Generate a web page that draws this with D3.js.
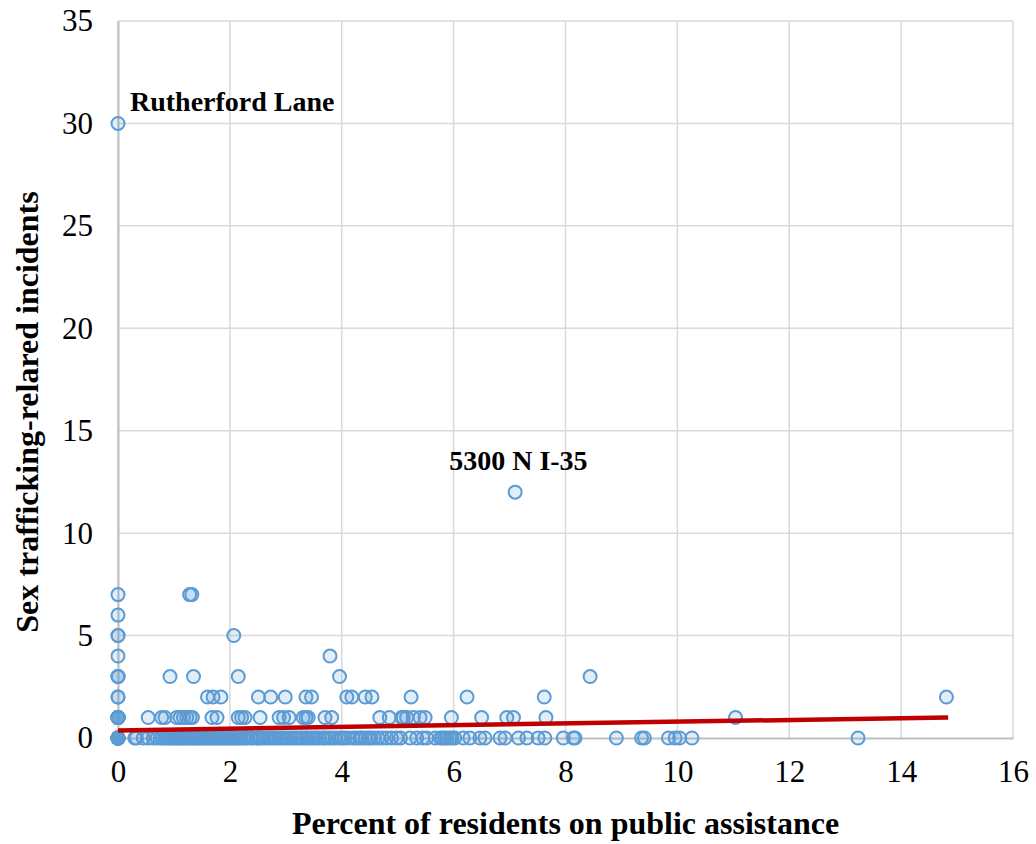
<!DOCTYPE html>
<html>
<head>
<meta charset="utf-8">
<script src="https://cdn.jsdelivr.net/npm/d3@7"></script>
<style>
  body { margin: 0; background: #fff; }
  svg { display: block; }
</style>
</head>
<body>
<script>
// incident counts, and for each count the % on public assistance of every location
const incidentLevels = [0, 1, 2, 3, 4, 5, 6, 7, 12, 30];
const pctAtLevel = [
  [0, 0, 0, 0, 0, 0, 0, 0, 0, 0, 0, 0, 0, 0, 0,
   0.30, 0.33, 0.45, 0.54, 0.63, 0.70, 0.76, 0.80, 0.85, 0.88, 0.92, 0.95, 0.98,
   1.02, 1.05, 1.08, 1.12, 1.15, 1.18, 1.22, 1.25, 1.28, 1.32, 1.35, 1.38, 1.42,
   1.45, 1.48, 1.52, 1.55, 1.58, 1.62, 1.65, 1.68, 1.72, 1.75, 1.78, 1.82, 1.85,
   1.88, 1.92, 1.95, 1.98, 2.02, 2.05, 2.08, 2.12, 2.15, 2.20, 2.25, 2.28, 2.32,
   2.38, 2.42, 2.48, 2.52, 2.55, 2.60, 2.66, 2.70, 2.75, 2.80, 2.84, 2.90, 2.95,
   3.00, 3.05, 3.10, 3.15, 3.20, 3.26, 3.30, 3.36, 3.40, 3.45, 3.50, 3.55, 3.60,
   3.66, 3.70, 3.76, 3.82, 3.88, 3.95, 4.00, 4.05, 4.12, 4.20, 4.26, 4.32, 4.36,
   4.42, 4.48, 4.52, 4.58, 4.65, 4.72, 4.80, 4.89, 4.98, 5.05, 5.22, 5.34, 5.45,
   5.52, 5.67, 5.76, 5.80, 5.84, 5.88, 5.93, 5.97, 6.02, 6.17, 6.29, 6.47, 6.56,
   6.83, 6.92, 7.16, 7.31, 7.51, 7.63, 7.96, 8.14, 8.17, 8.91, 9.36, 9.41, 9.84,
   9.96, 10.04, 10.26, 13.23],
  [0, 0, 0, 0, 0, 0, 0, 0, 0, 0,
   0.54, 0.78, 0.84, 1.05, 1.11, 1.17, 1.23, 1.29, 1.33, 1.68, 1.77, 2.15, 2.21,
   2.27, 2.54, 2.88, 2.96, 3.06, 3.31, 3.36, 3.40, 3.70, 3.82, 4.68, 4.85, 5.07,
   5.10, 5.16, 5.28, 5.40, 5.49, 5.96, 6.50, 6.95, 7.07, 7.65, 11.04],
  [0, 0, 1.60, 1.70, 1.84, 2.51, 2.73, 2.99, 3.36, 3.46, 4.09, 4.18, 4.42, 4.54,
   5.24, 6.24, 7.62, 14.81],
  [0, 0, 0, 0.93, 1.35, 2.15, 3.96, 8.44],
  [0, 3.79],
  [0, 0, 2.07],
  [0],
  [0, 1.28, 1.32],
  [7.10],
  [0]
];

const callouts = [
  { name: 'Rutherford Lane', pct: 0, incidents: 30 },
  { name: '5300 N I-35', pct: 7.10, incidents: 12 }
];

// linear trend line
const trendIntercept = 0.37;
const trendSlope = 0.0425;
const trendRange = [0, 14.84];

const xTicks = [0, 2, 4, 6, 8, 10, 12, 14, 16];
const yTicks = [0, 5, 10, 15, 20, 25, 30, 35];

const width = 1036;
const height = 844;
const margin = { top: 21, right: 23, bottom: 106, left: 118 };

const points = incidentLevels.flatMap((level, i) =>
  pctAtLevel[i].map(pct => ({ pct, incidents: level })));

const svg = d3.select('body')
  .append('svg')
    .attr('width', width)
    .attr('height', height);

const x = d3.scaleLinear()
  .domain([0, 16])
  .range([margin.left, width - margin.right]);

const y = d3.scaleLinear()
  .domain([0, 35])
  .range([height - margin.bottom, margin.top]);

const serif = '"Liberation Serif", "Times New Roman", serif';

// grid
svg.append('g')
  .attr('stroke', '#d9d9d9')
  .attr('stroke-width', 1.5)
  .selectAll('line')
  .data(xTicks)
  .join('line')
    .attr('x1', d => x(d))
    .attr('x2', d => x(d))
    .attr('y1', y(0))
    .attr('y2', y(35));

svg.append('g')
  .attr('stroke', '#d9d9d9')
  .attr('stroke-width', 1.5)
  .selectAll('line')
  .data(yTicks.slice(1))
  .join('line')
    .attr('x1', x(0))
    .attr('x2', x(16))
    .attr('y1', d => y(d))
    .attr('y2', d => y(d));

// axes
const xAxis = svg.append('g')
  .attr('transform', `translate(0,${y(0)})`)
  .call(d3.axisBottom(x).tickValues(xTicks).tickSize(0).tickPadding(22));

const yAxis = svg.append('g')
  .attr('transform', `translate(${x(0)},0)`)
  .call(d3.axisLeft(y).tickValues(yTicks).tickSize(0).tickPadding(25));

[xAxis, yAxis].forEach(axis => {
  axis.select('.domain').attr('stroke', '#bfbfbf').attr('stroke-width', 2);
  axis.selectAll('text')
    .attr('fill', '#000')
    .style('font-family', serif)
    .style('font-size', '31px');
});

// points
svg.append('g')
  .selectAll('circle')
  .data(points)
  .join('circle')
    .attr('cx', d => x(d.pct))
    .attr('cy', d => y(d.incidents))
    .attr('r', 6.5)
    .attr('fill', '#5b9bd5')
    .attr('fill-opacity', 0.18)
    .attr('stroke', '#5b9bd5')
    .attr('stroke-width', 2);

// trend line
svg.append('line')
  .attr('x1', x(trendRange[0]))
  .attr('y1', y(trendIntercept + trendSlope * trendRange[0]))
  .attr('x2', x(trendRange[1]))
  .attr('y2', y(trendIntercept + trendSlope * trendRange[1]))
  .attr('stroke', '#c00000')
  .attr('stroke-width', 4.5);

// callouts
svg.append('text')
  .attr('x', x(callouts[0].pct) + 12)
  .attr('y', y(callouts[0].incidents) - 12)
  .style('font-family', serif)
  .style('font-weight', 'bold')
  .style('font-size', '28px')
  .text(callouts[0].name);

svg.append('text')
  .attr('x', x(callouts[1].pct) - 66)
  .attr('y', y(callouts[1].incidents) - 22)
  .style('font-family', serif)
  .style('font-weight', 'bold')
  .style('font-size', '28px')
  .text(callouts[1].name);

// axis titles
svg.append('text')
  .attr('x', (x(0) + x(16)) / 2)
  .attr('y', 834)
  .attr('text-anchor', 'middle')
  .style('font-family', serif)
  .style('font-weight', 'bold')
  .style('font-size', '32px')
  .text('Percent of residents on public assistance');

svg.append('text')
  .attr('transform', 'translate(38,412) rotate(-90)')
  .attr('text-anchor', 'middle')
  .style('font-family', serif)
  .style('font-weight', 'bold')
  .style('font-size', '32px')
  .text('Sex trafficking-relared incidents');
</script>
</body>
</html>
